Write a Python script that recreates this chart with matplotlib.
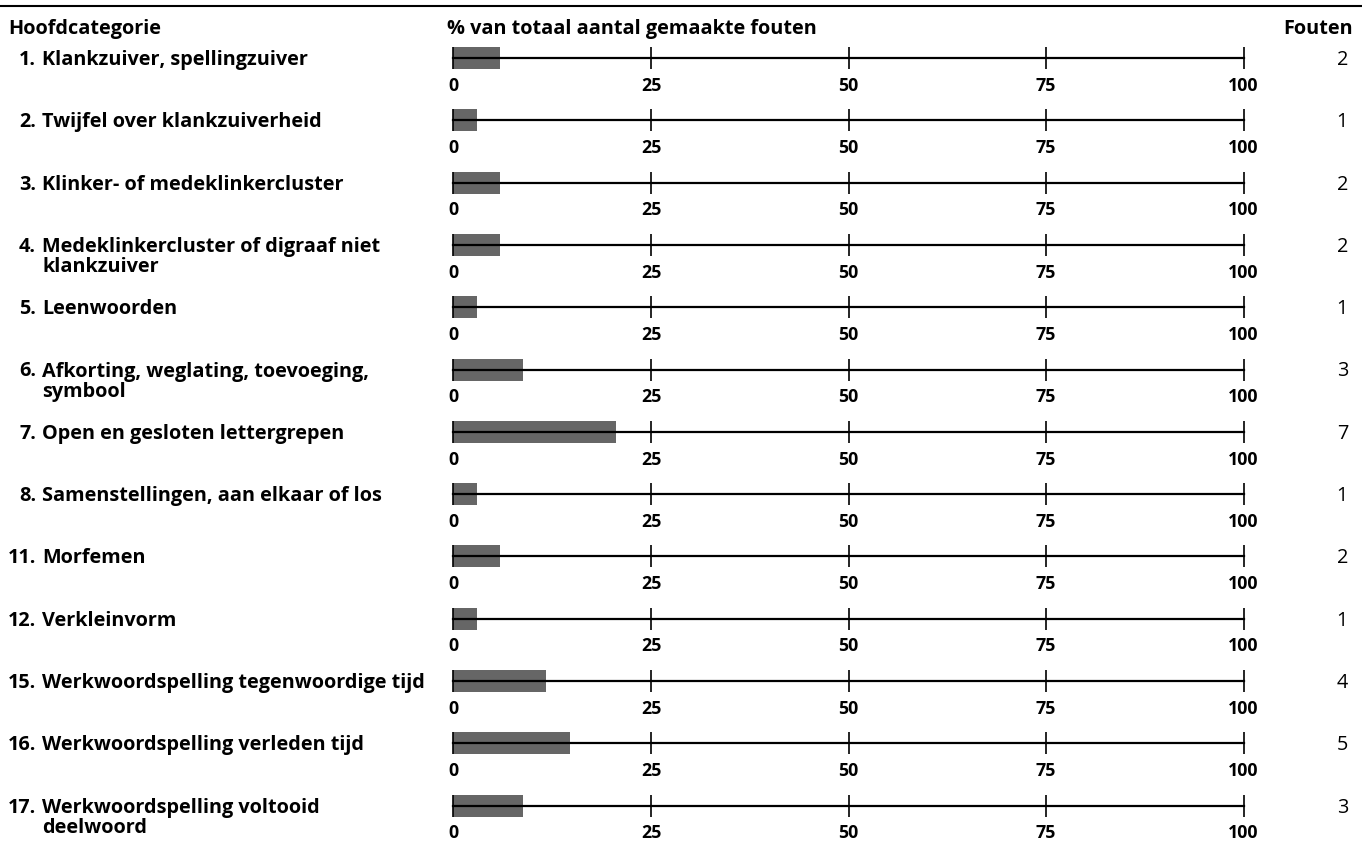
import matplotlib
matplotlib.use("Agg")
import matplotlib.pyplot as plt
from matplotlib.lines import Line2D

plt.rcParams['font.family'] = ['Open Sans', 'DejaVu Sans']

# data
nummers = ["1.", "2.", "3.", "4.", "5.", "6.", "7.", "8.", "11.", "12.", "15.", "16.", "17."]
categorieen = [
    "Klankzuiver, spellingzuiver",
    "Twijfel over klankzuiverheid",
    "Klinker- of medeklinkercluster",
    "Medeklinkercluster of digraaf niet\nklankzuiver",
    "Leenwoorden",
    "Afkorting, weglating, toevoeging,\nsymbool",
    "Open en gesloten lettergrepen",
    "Samenstellingen, aan elkaar of los",
    "Morfemen",
    "Verkleinvorm",
    "Werkwoordspelling tegenwoordige tijd",
    "Werkwoordspelling verleden tijd",
    "Werkwoordspelling voltooid\ndeelwoord",
]
fouten = [2, 1, 2, 2, 1, 3, 7, 1, 2, 1, 4, 5, 3]
ticks = [0, 25, 50, 75, 100]

totaal = sum(fouten)
procent = [f / totaal * 100 for f in fouten]

W, H = 1362, 843
fig = plt.figure(figsize=(W / 100, H / 100), dpi=100)

FS = 14.3


def fx(px):
    return px / W


def fy(py):
    return 1 - py / H


# top rule
fig.add_artist(Line2D([0, 1], [fy(6), fy(6)], color="black", lw=1.5))

# headers
fig.text(fx(8), fy(29), "Hoofdcategorie", fontsize=FS, fontweight="bold", va="center")
fig.text(fx(447), fy(29), "% van totaal aantal gemaakte fouten", fontsize=FS,
         fontweight="bold", va="center")
fig.text(fx(1353), fy(29), "Fouten", fontsize=FS, fontweight="bold", va="center", ha="right")

x0, x1 = 453.5, 1243.5
row_h = 22
for i, (nr, naam, f, p) in enumerate(zip(nummers, categorieen, fouten, procent)):
    yc = 58 + i * 62.3
    ax = fig.add_axes([fx(x0), fy(yc + row_h / 2), fx(x1 - x0), row_h / H])
    ax.barh(0, p, height=2, left=0, color="#666666", zorder=1)
    ax.set_xlim(0, 100)
    ax.set_ylim(-1, 1)
    for s in ["top", "left", "right"]:
        ax.spines[s].set_visible(False)
    ax.spines["bottom"].set_position(("data", 0))
    ax.spines["bottom"].set_linewidth(1.6)
    ax.spines["bottom"].set_zorder(3)
    ax.patch.set_visible(False)
    ax.set_yticks([])
    ax.set_xticks(ticks)
    ax.set_xticklabels([str(t) for t in ticks], fontsize=12.8, fontweight="bold")
    ax.tick_params(axis="x", direction="inout", length=16, width=1.2, pad=5.5)

    # category label, one text per line
    fig.text(fx(36), fy(yc + 2), nr, fontsize=FS, fontweight="bold", ha="right", va="center")
    for k, regel in enumerate(naam.split("\n")):
        fig.text(fx(42), fy(yc + 2 + k * 20), regel, fontsize=FS, fontweight="bold",
                 ha="left", va="center")
    # count
    fig.text(fx(1348), fy(yc + 2), str(f), fontsize=FS, ha="right", va="center")

fig.savefig("out.png", dpi=100)
